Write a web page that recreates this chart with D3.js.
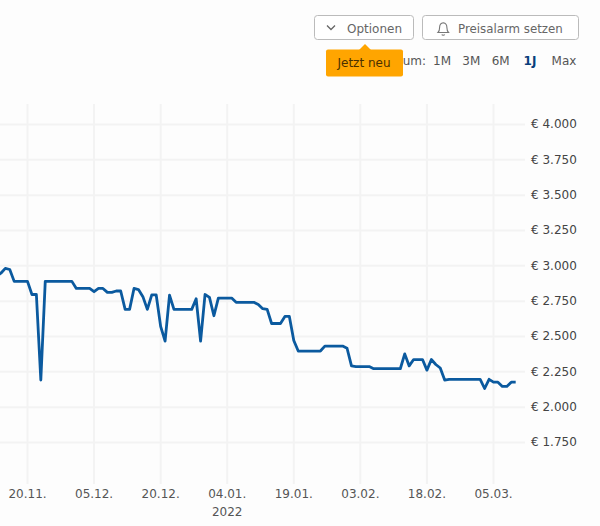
<!DOCTYPE html>
<html>
<head>
<meta charset="utf-8">
<script src="https://cdn.jsdelivr.net/npm/d3@7"></script>
<style>
    html, body { margin: 0; padding: 0; background: #fdfdfd; }
    svg { display: block; }
    text { font-family: "DejaVu Sans", sans-serif; font-size: 12px; }
</style>
</head>
<body>
<div id="chart"></div>
<script>
    // price history
    const dates = [
        "2021-11-13","2021-11-14","2021-11-15","2021-11-16","2021-11-17","2021-11-20","2021-11-21","2021-11-22","2021-11-23","2021-11-24",
        "2021-11-30","2021-12-01","2021-12-04","2021-12-05","2021-12-06","2021-12-07","2021-12-08","2021-12-09","2021-12-10","2021-12-11",
        "2021-12-12","2021-12-13","2021-12-14","2021-12-15","2021-12-16","2021-12-17","2021-12-18","2021-12-19","2021-12-20","2021-12-21",
        "2021-12-22","2021-12-23","2021-12-27","2021-12-28","2021-12-29","2021-12-30","2021-12-31","2022-01-01","2022-01-02","2022-01-05",
        "2022-01-06","2022-01-10","2022-01-11","2022-01-12","2022-01-13","2022-01-14","2022-01-16","2022-01-17","2022-01-18","2022-01-19",
        "2022-01-20","2022-01-25","2022-01-26","2022-01-30","2022-01-31","2022-02-01","2022-02-02","2022-02-05","2022-02-06","2022-02-12",
        "2022-02-13","2022-02-14","2022-02-15","2022-02-17","2022-02-18","2022-02-19","2022-02-20","2022-02-21","2022-02-22","2022-02-23",
        "2022-03-02","2022-03-03","2022-03-04","2022-03-05","2022-03-06","2022-03-07","2022-03-08","2022-03-09","2022-03-10"
    ];
    const prices = [
        2927,2948,2982,2974,2890,2890,2797,2797,2192,2890,
        2890,2840,2840,2817,2840,2840,2812,2812,2822,2822,
        2692,2692,2840,2832,2782,2692,2794,2794,2572,2467,
        2792,2692,2692,2767,2467,2797,2777,2647,2772,2772,
        2742,2742,2727,2697,2692,2592,2592,2642,2642,2472,
        2397,2397,2432,2432,2417,2292,2287,2287,2272,2272,
        2377,2292,2337,2337,2262,2337,2302,2277,2192,2197,
        2197,2132,2197,2177,2177,2147,2147,2177,2177
    ];
    const yTicks = [1750, 2000, 2250, 2500, 2750, 3000, 3250, 3500, 3750, 4000];
    const xTicks = ["2021-11-20","2021-12-05","2021-12-20","2022-01-04","2022-01-19","2022-02-03","2022-02-18","2022-03-05"];
    const ranges = ["1M", "3M", "6M", "1J", "Max"];

    const width = 600;
    const height = 526;

    const parseDate = d3.utcParse("%Y-%m-%d");
    const data = dates.map((d, i) => ({date: parseDate(d), price: prices[i]}));

    const svg = d3.select("#chart")
        .append("svg")
        .attr("width", width)
        .attr("height", height);

    const xScale = d3.scaleUtc()
        .domain([parseDate("2021-11-20"), parseDate("2022-03-05")])
        .range([27, 493]);

    const yScale = d3.scaleLinear()
        .domain([1750, 4000])
        .range([442, 124]);

    // y axis, the tick lines double as the grid
    const yAxis = d3.axisRight(yScale)
        .tickValues(yTicks)
        .tickSize(-525)
        .tickPadding(6)
        .tickFormat(d => "€ " + d3.format(",")(d).replace(",", "."));

    // x axis, same thing
    const xAxis = d3.axisBottom(xScale)
        .tickValues(xTicks.map(parseDate))
        .tickSize(-380)
        .tickPadding(5)
        .tickFormat(d3.utcFormat("%d.%m."));

    const gx = svg.append("g")
        .attr("transform", "translate(0,484)")
        .call(xAxis);

    const gy = svg.append("g")
        .attr("transform", "translate(525,0)")
        .call(yAxis);

    gx.select(".domain").remove();
    gy.select(".domain").remove();
    gx.selectAll(".tick line").attr("stroke", "#f3f3f3").attr("stroke-width", 2);
    gy.selectAll(".tick line").attr("stroke", "#f3f3f3").attr("stroke-width", 2);
    gx.selectAll(".tick text").attr("fill", "#555").style("font-size", "12px");
    gy.selectAll(".tick text").attr("fill", "#444").style("font-size", "12px");

    // year under the first tick of january
    gx.selectAll(".tick")
        .filter(d => d.getUTCFullYear() === 2022 && d.getUTCMonth() === 0 && d.getUTCDate() === 4)
        .append("text")
        .attr("y", 32)
        .attr("fill", "#555")
        .attr("text-anchor", "middle")
        .text("2022");

    // the price line
    const line = d3.line()
        .x(d => xScale(d.date) + 0.5)
        .y(d => yScale(d.price) + 0.5);

    svg.append("path")
        .datum(data)
        .attr("fill", "none")
        .attr("stroke", "#0b5a9f")
        .attr("stroke-width", 2.8)
        .attr("stroke-linejoin", "round")
        .attr("d", line);

    // buttons above the chart
    svg.append("rect")
        .attr("x", 314.5).attr("y", 15.5)
        .attr("width", 99).attr("height", 24).attr("rx", 3)
        .attr("fill", "#fff").attr("stroke", "#bbb");

    svg.append("rect")
        .attr("x", 422.5).attr("y", 15.5)
        .attr("width", 156).attr("height", 24).attr("rx", 3)
        .attr("fill", "#fff").attr("stroke", "#bbb");

    svg.append("path")
        .attr("d", "M327 25.5l4 4 4-4")
        .attr("fill", "none").attr("stroke", "#666").attr("stroke-width", 1.3);

    svg.append("text")
        .attr("x", 347).attr("y", 32.5)
        .attr("fill", "#666")
        .text("Optionen");

    // bell icon
    svg.append("path")
        .attr("d", "M438 32.5h10.5c-1.3-1.3-1.6-2.5-1.6-5 0-2.7-1.5-4.5-3.6-4.8-2.2 .3-3.7 2.1-3.7 4.8 0 2.5-.3 3.7-1.6 5z M441.8 34.5c.4 1 2.4 1 2.9 0")
        .attr("fill", "none").attr("stroke", "#777").attr("stroke-width", 1.1);

    svg.append("text")
        .attr("x", 458).attr("y", 32.5)
        .attr("fill", "#666")
        .style("font-size", "11.8px")
        .text("Preisalarm setzen");

    // period selector, the hint covers the start of this label
    svg.append("text")
        .attr("x", 426).attr("y", 65)
        .attr("text-anchor", "end")
        .attr("fill", "#555")
        .text("um:");

    const rangeScale = d3.scalePoint()
        .domain(ranges.slice(0, 4))
        .range([442, 530]);

    svg.selectAll(".range")
        .data(ranges)
        .enter()
        .append("text")
        .attr("class", "range")
        .attr("x", d => d === "Max" ? 564 : rangeScale(d))
        .attr("y", 65)
        .attr("text-anchor", "middle")
        .attr("fill", d => d === "1J" ? "#0a3f7c" : "#555")
        .attr("font-weight", d => d === "1J" ? "bold" : "normal")
        .text(d => d);

    // orange hint with its little arrow
    svg.append("path")
        .attr("d", "M359 50l6-6 6 6z")
        .attr("fill", "#ffa500");

    svg.append("rect")
        .attr("x", 326).attr("y", 49.5)
        .attr("width", 77).attr("height", 27).attr("rx", 2)
        .attr("fill", "#ffa500");

    svg.append("text")
        .attr("x", 364).attr("y", 67)
        .attr("text-anchor", "middle")
        .attr("fill", "#4a3000")
        .text("Jetzt neu");
</script>
</body>
</html>
